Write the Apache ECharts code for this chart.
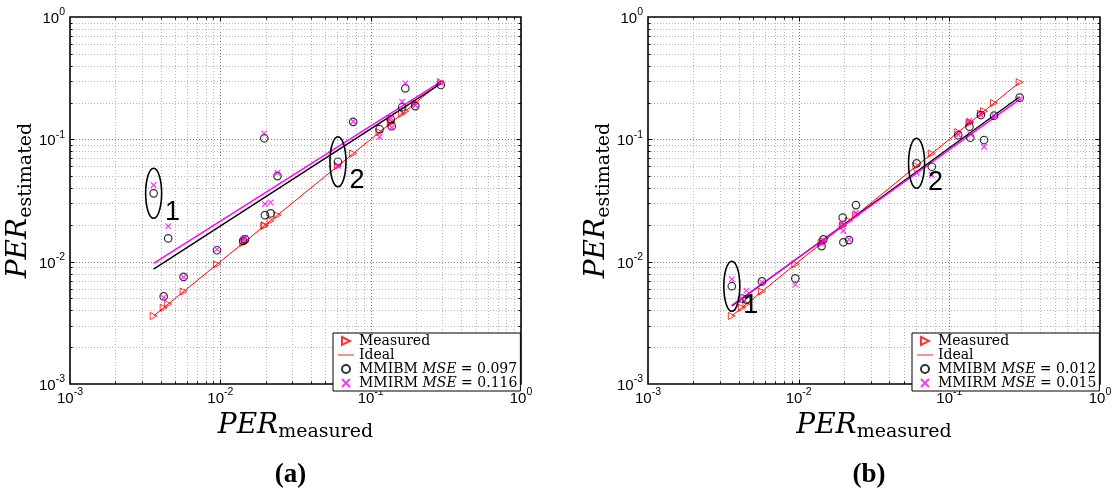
<!DOCTYPE html>
<html><head><meta charset="utf-8">
<script src="https://cdn.jsdelivr.net/npm/echarts@6/dist/echarts.min.js"></script>
<style>html,body{margin:0;padding:0;background:#fff}#c{width:1118px;height:493px}</style>
</head><body><div id="c"></div>
<script>
// ---- data ----
const measured   = [0.0036, 0.0042, 0.0045, 0.0057, 0.0095, 0.0142, 0.0146, 0.0196, 0.0198, 0.0216, 0.0240, 0.0606, 0.0765, 0.1146, 0.136, 0.138, 0.162, 0.170, 0.198, 0.293];
const estA_MMIBM = [0.0362, 0.0052, 0.0155, 0.0075, 0.0124, 0.0148, 0.0152, 0.102, 0.0240, 0.0248, 0.0501, 0.0656, 0.139, 0.121, 0.146, 0.128, 0.183, 0.261, 0.187, 0.278];
const estA_MMIRM = [0.0423, 0.0051, 0.0195, 0.0075, 0.0126, 0.0153, 0.0157, 0.112, 0.0296, 0.0305, 0.0533, 0.0608, 0.140, 0.105, 0.150, 0.125, 0.203, 0.287, 0.190, 0.290];
const estB_MMIBM = [0.0063, 0.0050, 0.0049, 0.0069, 0.0073, 0.0134, 0.0152, 0.0229, 0.0144, 0.0150, 0.0290, 0.0637, 0.0597, 0.108, 0.127, 0.103, 0.158, 0.0987, 0.156, 0.219];
const estB_MMIRM = [0.0072, 0.0050, 0.0058, 0.0068, 0.0065, 0.0141, 0.0150, 0.0208, 0.0179, 0.0152, 0.0251, 0.0533, 0.0511, 0.109, 0.142, 0.110, 0.158, 0.087, 0.156, 0.213];
const fitA_MMIBM = [[0.0036, 0.0087], [0.293, 0.285]];
const fitA_MMIRM = [[0.0036, 0.0097], [0.293, 0.296]];
const fitB_MMIBM = [[0.0036, 0.00434], [0.293, 0.223]];
const fitB_MMIRM = [[0.0036, 0.0044], [0.293, 0.212]];
const mseA = ['0.097', '0.116'];
const mseB = ['0.012', '0.015'];
const panelLabels = ['(a)', '(b)'];
const annotIdx = [0, 11];
const annotText = ['1', '2'];
const AX_MIN = 0.001, AX_MAX = 1;
const majorTicks = [0.001, 0.01, 0.1, 1];
const minorTicks = [];
[-3, -2, -1].forEach(e => { for (let k = 2; k <= 9; k++) minorTicks.push(+(k * Math.pow(10, e)).toPrecision(3)); });

// ---- helpers ----
const TRI = 'path://M0,0L10,5L0,10Z';
const XMK = 'path://M0,0L10,10M10,0L0,10';
const LINE_ICON = 'path://M0,0L20,0L20,1.1L0,1.1Z';
const grids = [{left: 70, top: 17, width: 451, height: 367}, {left: 648, top: 17, width: 452, height: 367}];
const tickRich = {
  b: {fontFamily: 'Liberation Sans', fontSize: 15, lineHeight: 24, color: '#000'},
  s: {fontFamily: 'Liberation Sans', fontSize: 10.5, lineHeight: 10, verticalAlign: 'top', color: '#000'}
};
const nameRich = {
  i: {fontFamily: 'DejaVu Serif', fontStyle: 'italic', fontSize: 28, lineHeight: 32, color: '#000'},
  s: {fontFamily: 'DejaVu Serif', fontSize: 19, lineHeight: 19, verticalAlign: 'bottom', color: '#000'}
};
function powLabel(v) {
  const e = Math.round(Math.log10(v));
  return '{b|10}{s|' + (e < 0 ? '-' + (-e) : e) + '}';
}
const gridData = [];
majorTicks.forEach(v => { gridData.push([v, 0.01, 0, 1]); gridData.push([0.01, v, 1, 1]); });
minorTicks.forEach(v => { gridData.push([v, 0.01, 0, 0]); gridData.push([0.01, v, 1, 0]); });

function renderGrid(params, api) {
  const dir = api.value(2), major = api.value(3);
  const tl = major ? 4.5 : 2.5;
  const gl = {stroke: major ? '#7a7a7a' : '#b4b4b4', lineWidth: 1, lineDash: [1, 2]};
  const tk = {stroke: '#000', lineWidth: 1};
  const ch = [];
  if (dir === 0) {
    const v = api.value(0);
    const p1 = api.coord([v, AX_MIN]), p2 = api.coord([v, AX_MAX]);
    const x = Math.round(p1[0]) + 0.5;
    if (v > AX_MIN && v < AX_MAX) {
      ch.push({type: 'line', shape: {x1: x, y1: p1[1], x2: x, y2: p2[1]}, style: gl});
      ch.push({type: 'line', shape: {x1: x, y1: p1[1], x2: x, y2: p1[1] - tl}, style: tk});
      ch.push({type: 'line', shape: {x1: x, y1: p2[1], x2: x, y2: p2[1] + tl}, style: tk});
    }
  } else {
    const v = api.value(1);
    const p1 = api.coord([AX_MIN, v]), p2 = api.coord([AX_MAX, v]);
    const y = Math.round(p1[1]) + 0.5;
    if (v > AX_MIN && v < AX_MAX) {
      ch.push({type: 'line', shape: {x1: p1[0], y1: y, x2: p2[0], y2: y}, style: gl});
      ch.push({type: 'line', shape: {x1: p1[0], y1: y, x2: p1[0] + tl, y2: y}, style: tk});
      ch.push({type: 'line', shape: {x1: p2[0], y1: y, x2: p2[0] - tl, y2: y}, style: tk});
    }
  }
  return {type: 'group', children: ch, silent: true};
}

const xAxes = [], yAxes = [], series = [], legends = [];
const panels = [
  {ib: estA_MMIBM, ir: estA_MMIRM, fb: fitA_MMIBM, fr: fitA_MMIRM, mse: mseA, legLeft: 333},
  {ib: estB_MMIBM, ir: estB_MMIRM, fb: fitB_MMIBM, fr: fitB_MMIRM, mse: mseB, legLeft: 912}
];
panels.forEach((p, i) => {
  xAxes.push({
    type: 'log', logBase: 10, gridIndex: i, min: AX_MIN, max: AX_MAX,
    axisLine: {show: false}, axisTick: {show: false}, splitLine: {show: false},
    axisLabel: {margin: 3, formatter: powLabel, rich: tickRich, color: '#000'},
    name: '{i|PER}{s|measured}', nameLocation: 'middle', nameGap: 21,
    nameTextStyle: {rich: nameRich}
  });
  yAxes.push({
    type: 'log', logBase: 10, gridIndex: i, min: AX_MIN, max: AX_MAX,
    axisLine: {show: false}, axisTick: {show: false}, splitLine: {show: false},
    axisLabel: {margin: 5, formatter: powLabel, rich: tickRich, color: '#000', padding: [4, 0, 0, 0]},
    name: '{i|PER}{s|estimated}', nameLocation: 'middle', nameGap: 32, nameRotate: 90,
    nameTextStyle: {rich: nameRich}
  });
  const nb = 'MMIBM|' + p.mse[0], nr = 'MMIRM|' + p.mse[1];
  series.push({type: 'custom', name: 'grid' + i, xAxisIndex: i, yAxisIndex: i, renderItem: renderGrid,
    data: gridData, z: 1, silent: true, clip: false});
  series.push({type: 'line', name: 'Ideal', xAxisIndex: i, yAxisIndex: i, symbol: 'none',
    data: [[measured[0], measured[0]], [measured[measured.length - 1], measured[measured.length - 1]]],
    lineStyle: {color: '#ff0000', width: 1}, itemStyle: {color: '#ff0000'}, z: 3});
  series.push({type: 'scatter', name: 'Measured', xAxisIndex: i, yAxisIndex: i, symbol: TRI, symbolSize: 7,
    data: measured.map(v => [v, v]),
    itemStyle: {color: 'none', borderColor: '#ff0000', borderWidth: 1}, z: 3});
  series.push({type: 'scatter', name: nb, xAxisIndex: i, yAxisIndex: i, symbol: 'circle', symbolSize: 7.5,
    data: measured.map((v, k) => [v, p.ib[k]]),
    itemStyle: {color: 'none', borderColor: '#000', borderWidth: 1.2}, z: 4});
  series.push({type: 'scatter', name: nr, xAxisIndex: i, yAxisIndex: i, symbol: XMK, symbolSize: 5.5,
    data: measured.map((v, k) => [v, p.ir[k]]),
    itemStyle: {color: 'none', borderColor: '#ff00ff', borderWidth: 1.2}, z: 5});
  series.push({type: 'line', name: 'fitB' + i, xAxisIndex: i, yAxisIndex: i, symbol: 'none', data: p.fb,
    lineStyle: {color: '#000', width: 1.4}, z: 4});
  series.push({type: 'line', name: 'fitR' + i, xAxisIndex: i, yAxisIndex: i, symbol: 'none', data: p.fr,
    lineStyle: {color: '#ff00ff', width: 1.4}, z: 4});
  legends.push({
    orient: 'vertical', left: p.legLeft, top: 333, itemGap: 0, itemWidth: 16, itemHeight: 8,
    padding: [1, 3, 1, 5], borderColor: '#000', borderWidth: 1, backgroundColor: '#fff',
    selectedMode: false, z: 10,
    textStyle: {fontFamily: 'DejaVu Serif', fontSize: 14, lineHeight: 11.7, color: '#000',
      rich: {it: {fontFamily: 'DejaVu Serif', fontStyle: 'italic', fontSize: 14, lineHeight: 11.7, color: '#000'}}},
    formatter: n => { const s = n.split('|'); return s.length > 1 ? s[0] + ' {it|MSE} = ' + s[1] : n; },
    data: [{name: 'Measured', icon: TRI}, {name: 'Ideal', icon: LINE_ICON, itemStyle: {color: '#ff0000'}},
           {name: nb, icon: 'circle'}, {name: nr, icon: XMK}]
  });
});

const chart = echarts.init(document.getElementById('c'), null, {renderer: 'canvas'});
chart.setOption({
  animation: false,
  backgroundColor: '#fff',
  grid: grids.map(g => Object.assign({show: true, borderColor: '#000', borderWidth: 1.6, backgroundColor: 'transparent'}, g)),
  xAxis: xAxes, yAxis: yAxes, legend: legends, series: series
});

// annotations (ellipses, numbers, panel labels) positioned through the axes
const graphics = [];
panels.forEach((p, i) => {
  annotIdx.forEach((k, j) => {
    const c = chart.convertToPixel({gridIndex: i}, [measured[k], p.ib[k]]);
    graphics.push({type: 'ellipse', shape: {cx: c[0], cy: c[1], rx: 8, ry: 25}, z: 50,
      style: {fill: 'none', stroke: '#000', lineWidth: 1.6}});
    graphics.push({type: 'text', x: c[0] + 19, y: c[1] + 19, z: 50,
      style: {text: annotText[j], fontFamily: 'Liberation Sans', fontSize: 27, fill: '#000', align: 'center', verticalAlign: 'middle'}});
  });
  const g = grids[i];
  graphics.push({type: 'text', x: g.left + g.width / 2 - 5, y: 475, z: 50,
    style: {text: panelLabels[i], fontFamily: 'Liberation Serif', fontWeight: 'bold', fontSize: 27, fill: '#000', align: 'center', verticalAlign: 'middle'}});
});
chart.setOption({graphic: graphics});
</script></body></html>
